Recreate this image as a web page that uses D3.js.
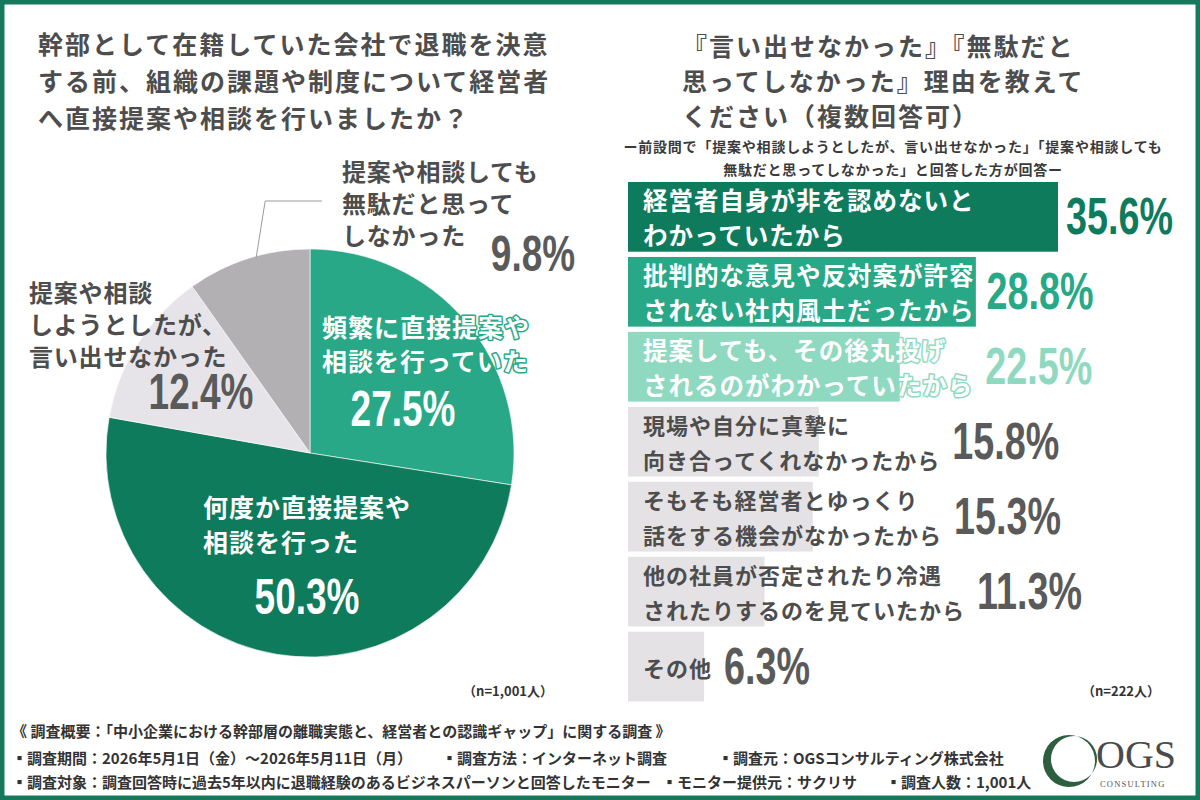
<!DOCTYPE html>
<html lang="ja"><head>
<meta charset="utf-8">
<title>退職前の提案・相談と理由</title>
<script src="https://d3js.org/d3.v7.min.js"></script>
<style>
  body { margin: 0; background: #fff; }
  svg { display: block; }
  text { font-family: "Noto Sans CJK JP", "Noto Sans", sans-serif; }
  text.pct { font-family: "Liberation Sans", Roboto, sans-serif; font-weight: 700; }
  text.logo { font-family: "Liberation Serif", "DejaVu Serif", serif; font-weight: 400; }
</style>
</head>
<body>
<script>
const width = 1200, height = 800;

// ---- data ----
const leftTitle = ["幹部として在籍していた会社で退職を決意", "する前、組織の課題や制度について経営者", "へ直接提案や相談を行いましたか？"];
const rightTitle = ["『言い出せなかった』『無駄だと", "思ってしなかった』理由を教えて", "ください（複数回答可）"];
const subTitle = ["ー前設問で「提案や相談しようとしたが、言い出せなかった」「提案や相談しても", "無駄だと思ってしなかった」と回答した方が回答ー"];

const pieLines = [
  ["頻繁に直接提案や", "相談を行っていた"],
  ["何度か直接提案や", "相談を行った"],
  ["提案や相談", "しようとしたが、", "言い出せなかった"],
  ["提案や相談しても", "無駄だと思って", "しなかった"]
];
const pieValues = [27.5, 50.3, 12.4, 9.8];
const pieN = "（n=1,001人）";

const barLines = [
  ["経営者自身が非を認めないと", "わかっていたから"],
  ["批判的な意見や反対案が許容", "されない社内風土だったから"],
  ["提案しても、その後丸投げ", "されるのがわかっていたから"],
  ["現場や自分に真摯に", "向き合ってくれなかったから"],
  ["そもそも経営者とゆっくり", "話をする機会がなかったから"],
  ["他の社員が否定されたり冷遇", "されたりするのを見ていたから"],
  ["その他"]
];
const barValues = [35.6, 28.8, 22.5, 15.8, 15.3, 11.3, 6.3];
const barN = "（n=222人）";

const footerLine1 = "《 調査概要：「中小企業における幹部層の離職実態と、経営者との認識ギャップ」に関する調査 》";
const footerLine2 = ["▪調査期間：2026年5月1日（金）～2026年5月11日（月）", "▪調査方法：インターネット調査", "▪調査元：OGSコンサルティング株式会社"];
const footerLine3 = ["▪調査対象：調査回答時に過去5年以内に退職経験のあるビジネスパーソンと回答したモニター", "▪モニター提供元：サクリサ", "▪調査人数：1,001人"];

// ---- styles ----
const green = "#0f7b5d", teal = "#28a886", mint = "#8ed9c0";
const lightGray = "#e6e4e8", midGray = "#b2b0b3", barGray = "#e4e2e4";
const textGray = "#4d4d4d", pctGray = "#5a5a5a";
const pieColors = [teal, green, lightGray, midGray];
const barColors = [green, teal, mint, barGray, barGray, barGray, barGray];
const barText = ["#fff", "#fff", "#fff", textGray, textGray, textGray, textGray];
const pctColors = [green, teal, mint, pctGray, pctGray, pctGray, pctGray];
const narrow = 0.74;   // condensed look for the big percentages

const svg = d3.select("body").append("svg")
  .attr("width", width).attr("height", height);

svg.append("rect").attr("width", width).attr("height", height).attr("fill", "#fff");

const multiline = (sel, lines, x, y, lh) => {
  lines.forEach((t, i) => {
    sel.append("tspan").attr("x", x).attr("y", y + i * lh).text(t);
  });
};

const pctText = (parent, x, y, anchor, size, fill, str) =>
  parent.append("text")
    .attr("class", "pct")
    .attr("transform", `translate(${x},${y}) scale(${narrow},1)`)
    .attr("font-size", size).attr("text-anchor", anchor).attr("dominant-baseline", "central")
    .attr("fill", fill)
    .text(str);

// ---- titles ----
svg.append("text")
  .attr("font-size", 25).attr("font-weight", 700).attr("letter-spacing", 2)
  .attr("fill", textGray).attr("dominant-baseline", "central")
  .call(multiline, leftTitle, 38, 43, 37);

svg.append("text")
  .attr("font-size", 25).attr("font-weight", 700).attr("letter-spacing", 2)
  .attr("fill", textGray).attr("dominant-baseline", "central")
  .call(multiline, rightTitle, 682, 45, 35);

svg.append("text")
  .attr("font-size", 14).attr("font-weight", 700).attr("letter-spacing", 0.8)
  .attr("fill", "#3a3a3a").attr("text-anchor", "middle").attr("dominant-baseline", "central")
  .call(multiline, subTitle, 893, 146, 23);

// ---- pie ----
const cx = 310, cy = 453, r = 204;
const pie = d3.pie().sort(null).value(d => d);
const arc = d3.arc().innerRadius(0).outerRadius(r);
const arcs = pie(pieValues);

const gPie = svg.append("g").attr("transform", `translate(${cx},${cy})`);
gPie.selectAll("path")
  .data(arcs)
  .join("path")
  .attr("d", arc)
  .attr("fill", (d, i) => pieColors[i])
  .attr("stroke", "#fff")
  .attr("stroke-width", 0.6);

// leader line for the small grey slice
const edge = d3.arc().innerRadius(r).outerRadius(r).centroid(arcs[3]);
const leader = [[cx + edge[0] + 8, cy + edge[1] - 1], [cx + edge[0] + 17, 201], [322, 201]];
svg.append("path")
  .attr("d", d3.line()(leader))
  .attr("fill", "none").attr("stroke", "#9a9a9a").attr("stroke-width", 1);

const pieLabelPos = [
  { x: 322, y: 326, lh: 34, fs: 25, ls: 1, fill: "#fff", halo: teal, px: 403, py: 408, pfill: "#fff" },
  { x: 203, y: 506, lh: 35, fs: 25, ls: 1, fill: "#fff", halo: null, px: 307, py: 596, pfill: "#fff" },
  { x: 29, y: 291, lh: 32, fs: 24, ls: 0.8, fill: textGray, halo: null, px: 201, py: 391, pfill: pctGray },
  { x: 342, y: 170, lh: 32, fs: 24, ls: 0.8, fill: textGray, halo: null, px: 533, py: 253, pfill: pctGray }
];

pieLabelPos.forEach((p, i) => {
  const t = svg.append("text")
    .attr("font-size", p.fs).attr("font-weight", 700).attr("letter-spacing", p.ls)
    .attr("fill", p.fill).attr("dominant-baseline", "central")
    .call(multiline, pieLines[i], p.x, p.y, p.lh);
  if (p.halo) {
    t.attr("stroke", p.halo).attr("stroke-width", 3).attr("paint-order", "stroke")
      .attr("stroke-linejoin", "round");
  }
  pctText(svg, p.px, p.py, "middle", 50, p.pfill, pieValues[i].toFixed(1) + "%");
});

svg.append("text")
  .attr("x", 553).attr("y", 690).attr("text-anchor", "end").attr("dominant-baseline", "central")
  .attr("font-size", 13).attr("font-weight", 700).attr("fill", "#333")
  .text(pieN);

// ---- bars ----
const x0 = 628;
const xScale = d3.scaleLinear().domain([0, 35.6]).range([0, 430]);
const yScale = d3.scaleBand()
  .domain(d3.range(barValues.length))
  .range([182, 182 + 74.2 * barValues.length])
  .paddingInner(0.07)
  .paddingOuter(0);

const gBars = svg.append("g");
barValues.forEach((v, i) => {
  const y = yScale(i), h = yScale.bandwidth();
  gBars.append("rect")
    .attr("x", x0).attr("y", y)
    .attr("width", xScale(v)).attr("height", h)
    .attr("fill", barColors[i]);

  const lines = barLines[i];
  const fs = i < 3 ? 24.5 : 22;
  const ls = 1;
  const lh = 35;
  const midY = y + h / 2;
  const startY = midY - (lines.length - 1) * lh / 2;
  const t = gBars.append("text")
    .attr("font-size", fs).attr("font-weight", 700).attr("letter-spacing", ls)
    .attr("fill", barText[i]).attr("dominant-baseline", "central")
    .call(multiline, lines, x0 + 15, startY, lh);
  if (i < 3) {
    t.attr("stroke", barColors[i]).attr("stroke-width", 3).attr("paint-order", "stroke")
      .attr("stroke-linejoin", "round");
  }
  let textEnd = x0 + 15;
  t.selectAll("tspan").each(function () {
    textEnd = Math.max(textEnd, x0 + 15 + this.getComputedTextLength());
  });
  const lx = Math.max(x0 + xScale(v) + 8, textEnd + 12);
  pctText(gBars, lx, midY, "start", 51, pctColors[i], v.toFixed(1) + "%");
});

svg.append("text")
  .attr("x", 1160).attr("y", 690).attr("text-anchor", "end").attr("dominant-baseline", "central")
  .attr("font-size", 13).attr("font-weight", 700).attr("fill", "#333")
  .text(barN);

// ---- footer ----
const foot = svg.append("g")
  .attr("font-size", 15).attr("font-weight", 700).attr("fill", "#333");
foot.append("text").attr("x", 12).attr("y", 730).attr("dominant-baseline", "central").text(footerLine1);
[12, 442, 718].forEach((x, i) => {
  foot.append("text").attr("x", x).attr("y", 757).attr("dominant-baseline", "central").text(footerLine2[i]);
});
[12, 662, 886].forEach((x, i) => {
  foot.append("text").attr("x", x).attr("y", 781).attr("dominant-baseline", "central").text(footerLine3[i]);
});

// ---- logo ----
const logo = svg.append("g");
const ring = `M${1069 - 26},761 a26,26 0 1,0 52,0 a26,26 0 1,0 -52,0 Z ` +
             `M${1074 - 23},759 a23,23 0 1,0 46,0 a23,23 0 1,0 -46,0 Z`;
logo.append("path").attr("d", ring).attr("fill", "#2c5e3f").attr("fill-rule", "evenodd");
logo.append("text")
  .attr("class", "logo")
  .attr("x", 1096).attr("y", 768)
  .attr("font-size", 40).attr("fill", "#4a4a4a")
  .text("OGS");
logo.append("text")
  .attr("class", "logo")
  .attr("x", 1100).attr("y", 787)
  .attr("font-size", 8.5).attr("letter-spacing", 1.2).attr("fill", "#555")
  .text("CONSULTING");

// ---- frame ----
svg.append("rect")
  .attr("x", 0).attr("y", 0).attr("width", width).attr("height", height)
  .attr("fill", "none").attr("stroke", "#16795b").attr("stroke-width", 9);
</script>
</body></html>
